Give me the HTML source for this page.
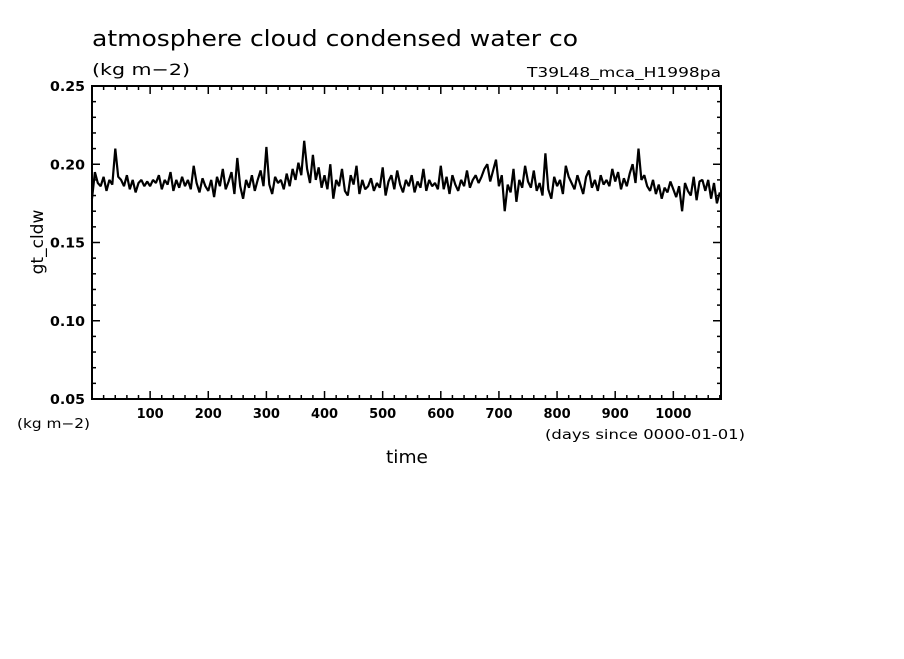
<!DOCTYPE html>
<html><head><meta charset="utf-8"><style>
body{margin:0;background:#fff;}
svg text{font-family:"DejaVu Sans","Liberation Sans",sans-serif;fill:#000;}
</style></head><body>
<svg width="904" height="654" xmlns="http://www.w3.org/2000/svg">
<text x="92" y="46" font-size="22" textLength="486" lengthAdjust="spacingAndGlyphs">atmosphere cloud condensed water co</text>
<text x="92" y="75" font-size="16" textLength="98" lengthAdjust="spacingAndGlyphs">(kg m−2)</text>
<text x="527" y="77" font-size="13" textLength="194" lengthAdjust="spacingAndGlyphs">T39L48_mca_H1998pa</text>
<g id="axes"></g>
<path id="series" fill="none" stroke="#000" stroke-width="2.2" stroke-linejoin="bevel"/>
<rect x="92" y="86" width="629" height="313" fill="none" stroke="#000" stroke-width="2"/>
<text transform="translate(43,242) rotate(-90)" font-size="17" text-anchor="middle">gt_cldw</text>
<text x="17" y="428" font-size="13" textLength="73" lengthAdjust="spacingAndGlyphs">(kg m−2)</text>
<text x="386" y="463" font-size="18" textLength="42" lengthAdjust="spacingAndGlyphs">time</text>
<text x="545" y="439" font-size="13" textLength="200" lengthAdjust="spacingAndGlyphs">(days since 0000-01-01)</text>
</svg>
<script>
const yTicks=[0.05,0.10,0.15,0.20,0.25];
const yTickLabels=["0.05","0.10","0.15","0.20","0.25"];
const xTicks=[100,200,300,400,500,600,700,800,900,1000];
const xTickLabels=["100","200","300","400","500","600","700","800","900","1000"];
const dayStep=5;
const values=[0.178,0.195,0.188,0.186,0.192,0.183,0.19,0.187,0.21,0.192,
0.19,0.186,0.193,0.184,0.19,0.182,0.188,0.19,0.186,0.189,
0.186,0.19,0.188,0.193,0.184,0.19,0.187,0.195,0.183,0.19,
0.185,0.192,0.186,0.19,0.184,0.199,0.188,0.182,0.191,0.186,
0.183,0.19,0.179,0.192,0.186,0.197,0.184,0.189,0.195,0.181,
0.204,0.186,0.178,0.19,0.185,0.193,0.183,0.19,0.196,0.186,
0.211,0.187,0.181,0.192,0.188,0.19,0.184,0.194,0.186,0.197,
0.19,0.201,0.193,0.215,0.197,0.188,0.206,0.19,0.198,0.185,
0.193,0.184,0.2,0.178,0.19,0.186,0.197,0.183,0.18,0.193,
0.187,0.199,0.181,0.19,0.184,0.186,0.191,0.183,0.188,0.185,
0.198,0.18,0.189,0.193,0.184,0.196,0.187,0.182,0.19,0.186,
0.193,0.182,0.189,0.185,0.197,0.183,0.19,0.186,0.188,0.184,
0.199,0.184,0.192,0.181,0.193,0.187,0.183,0.19,0.186,0.196,
0.185,0.19,0.193,0.188,0.192,0.197,0.2,0.189,0.196,0.203,
0.186,0.193,0.17,0.187,0.182,0.197,0.176,0.19,0.185,0.199,
0.189,0.185,0.196,0.183,0.188,0.18,0.207,0.184,0.178,0.192,
0.186,0.19,0.181,0.199,0.192,0.188,0.184,0.193,0.187,0.181,
0.192,0.196,0.185,0.19,0.183,0.193,0.187,0.19,0.186,0.197,
0.189,0.195,0.184,0.191,0.186,0.194,0.2,0.188,0.21,0.19,
0.193,0.186,0.183,0.19,0.181,0.187,0.178,0.185,0.182,0.189,
0.184,0.179,0.186,0.17,0.188,0.183,0.18,0.192,0.177,0.189,
0.19,0.183,0.19,0.178,0.188,0.175,0.182];
const X0=92,X1=721,Y0=399,Y1=86,XMIN=0,XMAX=1082,YMIN=0.05,YMAX=0.25;
const xs=d=>X0+(d-XMIN)/(XMAX-XMIN)*(X1-X0);
const ys=v=>Y0-(v-YMIN)/(YMAX-YMIN)*(Y0-Y1);
const NS="http://www.w3.org/2000/svg";
const ax=document.getElementById('axes');
function ln(x1,y1,x2,y2,w){const l=document.createElementNS(NS,'line');l.setAttribute('x1',x1);l.setAttribute('y1',y1);l.setAttribute('x2',x2);l.setAttribute('y2',y2);l.setAttribute('stroke','#000');l.setAttribute('stroke-width',w);ax.appendChild(l);return l;}
for(let d=20;d<XMAX;d+=20){const x=xs(d);const m=d%100===0;
const a=ln(x,Y0,x,Y0-(m?8:4),1.5);


const b=ln(x,Y1,x,Y1+(m?8:4),1.5);

}
for(let k=0;k<=20;k++){const v=0.05+k*0.01;const y=ys(v);const m=k%5===0;
const a=ln(X0,y,X0+(m?8:4),y,1.5);


const b=ln(X1,y,X1-(m?8:4),y,1.5);

}
xTicks.forEach((d,i)=>{const t=document.createElementNS(NS,'text');


t.setAttribute('x',xs(d));t.setAttribute('y',418);t.setAttribute('font-size','13');t.setAttribute('text-anchor','middle');t.setAttribute('font-weight','bold');t.textContent=xTickLabels[i];ax.appendChild(t);});
yTicks.forEach((v,i)=>{const t=document.createElementNS(NS,'text');


t.setAttribute('x',50);t.setAttribute('y',ys(v)+5);t.setAttribute('font-size','13');t.setAttribute('font-weight','bold');t.setAttribute('textLength','35');t.setAttribute('lengthAdjust','spacingAndGlyphs');t.textContent=yTickLabels[i];ax.appendChild(t);});
document.getElementById('series').setAttribute('d',values.map((v,i)=>(i?'L':'M')+xs(i*dayStep).toFixed(1)+','+ys(v).toFixed(1)).join(''));
</script>
</body></html>
